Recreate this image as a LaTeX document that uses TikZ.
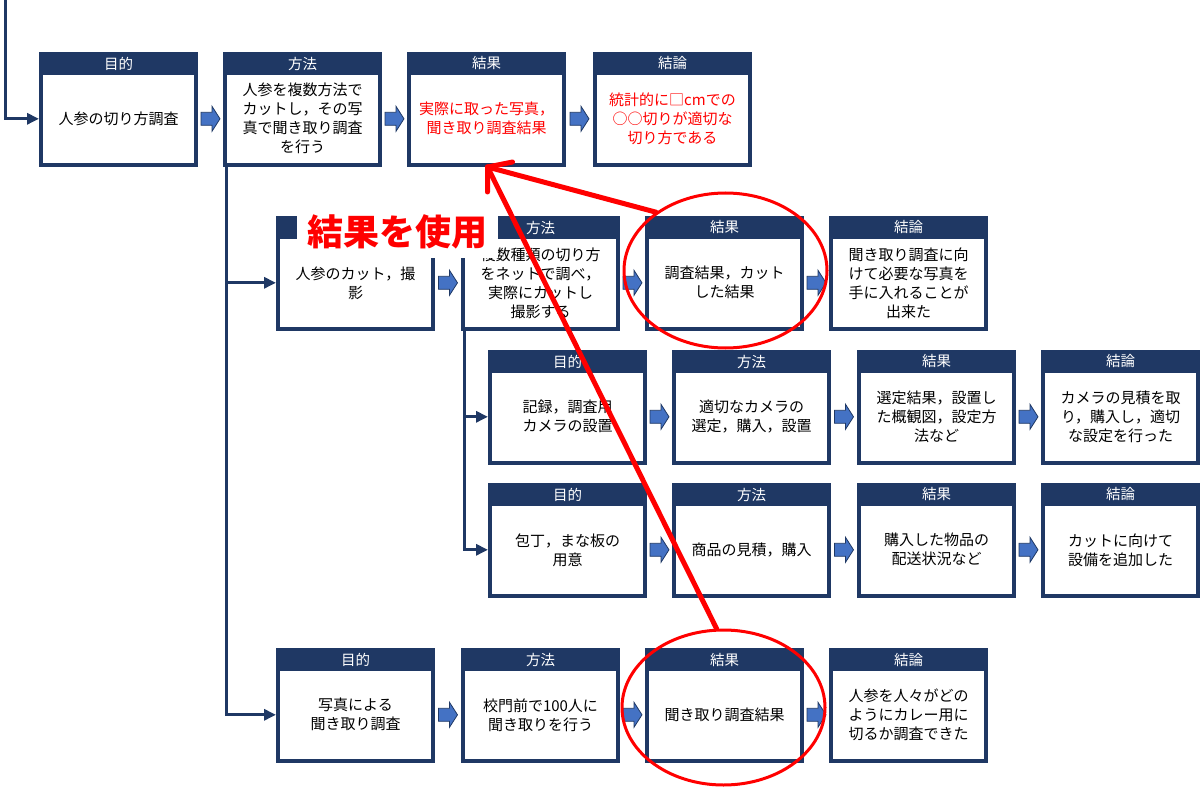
\documentclass[tikz,border=0pt]{standalone}
\usepackage{fontspec}
\setmainfont{Noto Sans CJK JP}
\usetikzlibrary{arrows.meta,calc,shapes.geometric}
\definecolor{navy}{HTML}{1F3864}
\definecolor{blk}{HTML}{4472C4}
\definecolor{myred}{HTML}{FF0000}
\tikzset{
  outerbox/.style={draw=navy, fill=navy, line width=1pt, minimum width=158pt, minimum height=114pt, inner sep=0pt, anchor=north west},
  bodybox/.style={fill=white, draw=none, minimum width=151pt, minimum height=88pt, inner sep=0pt, anchor=south},
  headtext/.style={text=white, font=\fontsize{14.5}{16}\selectfont, inner sep=0pt},
  bodytext/.style={align=center, font=\fontsize{15}{19}\selectfont, inner sep=0pt},
  conn/.style={draw=navy, line width=3pt, -{Triangle[length=12pt,width=11pt]}},
  blkstyle/.style={fill=blk, draw=navy, line width=0.8pt, line join=miter},
  uselbl/.style={fill=white, text=myred, font=\bfseries\fontsize{36}{36}\selectfont, minimum width=201pt, minimum height=53pt, inner sep=0pt},
  redell/.style={ellipse, draw=myred, line width=3pt, minimum width=203pt, minimum height=155pt, inner sep=0pt},
  redln/.style={draw=myred, line width=5pt, line cap=round, line join=round}
}
\newcommand\pbx[6]{%
  \node[outerbox] (#1) at (#2,#3) {};
  \node[bodybox] (#1b) at ([yshift=4pt]#1.south) {};
  \node[headtext] (#1h) at ([yshift=-11.5pt]#1.north) {#4};
  \node[bodytext, text=#6] (#1t) at (#1b.center) {#5};
}
\newcommand\blkarr[2]{%
  \coordinate (#1-#2) at ($(#1b.east)!0.5!(#2b.west)$);
  \filldraw[blkstyle] ([shift={(-9.5pt,6.5pt)}]#1-#2) -- ([shift={(1.5pt,6.5pt)}]#1-#2)
    -- ([shift={(1.5pt,12.5pt)}]#1-#2) -- ([shift={(9.5pt,0pt)}]#1-#2)
    -- ([shift={(1.5pt,-12.5pt)}]#1-#2) -- ([shift={(1.5pt,-6.5pt)}]#1-#2)
    -- ([shift={(-9.5pt,-6.5pt)}]#1-#2) -- cycle;
}
\begin{document}
\begin{tikzpicture}[x=1pt, y=-1pt]
\useasboundingbox (0,0) rectangle (1200,789);
% Row 1
\pbx{r1a}{39}{52}{目的}{人参の切り方調査}{black}
\pbx{r1b}{223}{52}{方法}{人参を複数方法で\\カットし，その写\\真で聞き取り調査\\を行う}{black}
\pbx{r1c}{407}{52}{結果}{実際に取った写真，\\聞き取り調査結果}{myred}
\pbx{r1d}{593}{52}{結論}{統計的に□cmでの\\○○切りが適切な\\切り方である}{myred}
% Row 2
\pbx{r2a}{276}{216}{}{人参のカット，撮\\影}{black}
\pbx{r2b}{461}{216}{方法}{複数種類の切り方\\をネットで調べ，\\実際にカットし\\撮影する}{black}
\pbx{r2c}{645}{216}{結果}{調査結果，カット\\した結果}{black}
\pbx{r2d}{829}{216}{結論}{聞き取り調査に向\\けて必要な写真を\\手に入れることが\\出来た}{black}
% Row 3
\pbx{r3a}{488}{350}{目的}{記録，調査用\\カメラの設置}{black}
\pbx{r3b}{672}{350}{方法}{適切なカメラの\\選定，購入，設置}{black}
\pbx{r3c}{857}{350}{結果}{選定結果，設置し\\た概観図，設定方\\法など}{black}
\pbx{r3d}{1041}{350}{結論}{カメラの見積を取\\り，購入し，適切\\な設定を行った}{black}
% Row 4
\pbx{r4a}{488}{483}{目的}{包丁，まな板の\\用意}{black}
\pbx{r4b}{672}{483}{方法}{商品の見積，購入}{black}
\pbx{r4c}{857}{483}{結果}{購入した物品の\\配送状況など}{black}
\pbx{r4d}{1041}{483}{結論}{カットに向けて\\設備を追加した}{black}
% Row 5
\pbx{r5a}{276}{648}{目的}{写真による\\聞き取り調査}{black}
\pbx{r5b}{461}{648}{方法}{校門前で100人に\\聞き取りを行う}{black}
\pbx{r5c}{645}{648}{結果}{聞き取り調査結果}{black}
\pbx{r5d}{829}{648}{結論}{人参を人々がどの\\ようにカレー用に\\切るか調査できた}{black}
% block arrows
\blkarr{r1a}{r1b}\blkarr{r1b}{r1c}\blkarr{r1c}{r1d}
\blkarr{r2a}{r2b}\blkarr{r2b}{r2c}\blkarr{r2c}{r2d}
\blkarr{r3a}{r3b}\blkarr{r3b}{r3c}\blkarr{r3c}{r3d}
\blkarr{r4a}{r4b}\blkarr{r4b}{r4c}\blkarr{r4c}{r4d}
\blkarr{r5a}{r5b}\blkarr{r5b}{r5c}\blkarr{r5c}{r5d}
% connectors
\coordinate (start) at (5,0);
\draw[conn] (start) |- (r1a.west |- r1ab.center);
\draw[conn] ([xshift=3pt]r1b.south west) |- (r2a.west |- r2ab.center);
\draw[conn] ([xshift=3pt]r1b.south west) |- (r5a.west |- r5ab.center);
\draw[conn] ([xshift=3pt]r2b.south west) |- (r3a.west |- r3ab.center);
\draw[conn] ([xshift=3pt]r2b.south west) |- (r4a.west |- r4ab.center);
% label
\node[uselbl] (use) at (397.5,231.5) {結果を使用};
% red marks
\node[redell] (e1) at ([xshift=1pt,yshift=3pt]r2c.center) {};
\node[redell] (e2) at ([xshift=-1pt,yshift=-2pt]r5c.center) {};
\coordinate (tip) at ([xshift=1pt]r1c.south);
\draw[redln] (e2.95) -- (tip);
\draw[redln] (e1.140) -- (tip);
\draw[redln] ([xshift=25pt,yshift=5pt]tip) -- (tip) -- ([yshift=-25pt]tip);
\end{tikzpicture}
\end{document}
